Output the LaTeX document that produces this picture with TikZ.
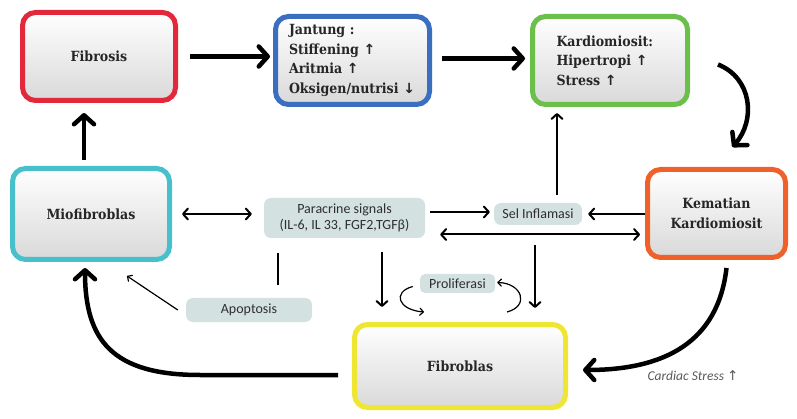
\documentclass[tikz,border=0pt]{standalone}
\usepackage{fontspec}
\setmainfont{Carlito}
\newfontfamily\slabfont{DejaVu Serif Condensed}
\newfontfamily\symfont{DejaVu Sans}
\usetikzlibrary{arrows.meta}
\definecolor{fibred}{HTML}{E2283A}
\definecolor{jantblue}{HTML}{3A6EC0}
\definecolor{kardgreen}{HTML}{6AC04A}
\definecolor{miocyan}{HTML}{48C0CC}
\definecolor{kemorange}{HTML}{F0602A}
\definecolor{fibyellow}{HTML}{EEE630}
\definecolor{signalfill}{HTML}{D4E1E1}
\begin{document}
\begin{tikzpicture}[x=1pt,y=-1pt,
  bigbox/.style={draw=#1, line width=5pt, rounded corners=13pt, top color=white, bottom color=black!15,
    minimum height=88pt, text=black!85, font=\slabfont\bfseries\fontsize{14}{19.5}\selectfont},
  signal/.style={fill=signalfill, rounded corners=7pt, text=black!82, font=\fontsize{14}{16}\selectfont},
  bigarrow/.style={line width=4.5pt, -{Straight Barb[round,length=9pt,width=20pt]}},
  medarrow/.style={line width=2pt, -{Straight Barb[round,length=5pt,width=11pt]}},
  medboth/.style={line width=2pt, {Straight Barb[round,length=5pt,width=11pt]}-{Straight Barb[round,length=5pt,width=11pt]}},
  thinarrow/.style={line width=1.2pt, -{Straight Barb[round,length=3.5pt,width=7pt]}}]
\useasboundingbox (0,0) rectangle (797,419);

\node[bigbox=fibred, minimum width=153pt] (fibrosis) at (99,56.5) {Fibrosis};
\node[bigbox=jantblue, minimum width=154pt, text width=127pt, inner xsep=13.5pt, align=left] (jantung) at (352.5,60.5)
  {Jantung :\\Stiffening {\symfont↑}\\Aritmia {\symfont↑}\\Oksigen/nutrisi {\symfont↓}};
\node[bigbox=kardgreen, minimum width=155pt, text width=107pt, inner xsep=24pt, align=left] (kardio) at (610,60.5)
  {Kardiomiosit:\\Hipertropi {\symfont↑}\\Stress {\symfont↑}};
\node[bigbox=miocyan, minimum width=157pt, minimum height=91pt] (miofib) at (91,214) {Miofibroblas};
\node[bigbox=kemorange, minimum width=138pt, align=center] (kematian) at (716.5,213.5) {Kematian\\Kardiomiosit};
\node[bigbox=fibyellow, minimum width=211pt, minimum height=83pt] (fibroblas) at (460,366) {Fibroblas};

\node[signal, minimum width=161pt, minimum height=40pt, align=center] (paracrine) at (344.5,218)
  {Paracrine signals\\(IL-6, IL 33, FGF2,TGFβ)};
\node[signal, minimum width=88pt, minimum height=22pt] (sel) at (538,214) {Sel Inflamasi};
\node[signal, minimum width=126pt, minimum height=24pt] (apoptosis) at (249,310) {Apoptosis};
\node[signal, minimum width=75pt, minimum height=19pt, inner ysep=1pt, rounded corners=5pt] (prolif) at (457.5,283.5) {Proliferasi};
\node[text=black!65, font=\itshape\fontsize{13.5}{15}\selectfont] (cslabel) at (693,376) {Cardiac Stress {\upshape\symfont↑}};

\coordinate (kk1) at ([xshift=28pt,yshift=-4pt]kardio.east);
\coordinate (kk2) at ([xshift=16pt,yshift=20pt]kematian.north);
\coordinate (fm1) at (200,375);
\coordinate (am1) at (127,276);
\coordinate (pl1) at (424,312);
\coordinate (pl2) at (507,312);

\draw[bigarrow, shorten <=12pt, shorten >=3pt] (fibrosis.east) -- (fibrosis.east -| jantung.west);
\draw[bigarrow, shorten <=10pt, shorten >=5pt] ([yshift=2pt]jantung.east) -- ([yshift=2pt]kardio.west);
\draw[bigarrow] (kk1) .. controls (752,78) and (756,120) .. (kk2);
\draw[bigarrow, shorten <=6pt, shorten >=10pt] ([xshift=-7pt]miofib.north) -- ([xshift=-7pt]miofib.north |- fibrosis.south);
\draw[bigarrow, shorten >=6pt] ([xshift=-14pt,yshift=-9pt]fibroblas.west) -- (fm1)
  .. controls (112,375) and (85,340) .. ([xshift=-6pt]miofib.south);
\draw[bigarrow, shorten >=15pt] ([xshift=10pt,yshift=-8pt]kematian.south) .. controls (718,342) and (665,370) .. ([yshift=-4pt]fibroblas.east);

\draw[medboth, shorten <=10pt, shorten >=12pt] (miofib.east) -- (miofib.east -| paracrine.west);
\draw[medarrow, shorten <=5pt, shorten >=4pt] ([yshift=6pt]paracrine.east) -- ([yshift=6pt]paracrine.east -| sel.west);
\draw[medarrow, shorten >=6pt] (kematian.west |- sel.east) -- (sel.east);
\draw[medboth, shorten <=5pt, shorten >=15pt] ([yshift=-21pt]kematian.west) -- ([yshift=-21pt]kematian.west -| paracrine.east);
\draw[medarrow, shorten <=8pt, shorten >=6pt] ([xshift=19pt]sel.north) -- ([xshift=19pt]sel.north |- kardio.south);
\draw[medarrow, shorten <=14pt, shorten >=15pt] ([xshift=37.5pt]paracrine.south) -- ([xshift=37.5pt]paracrine.south |- fibroblas.north);
\draw[medarrow, shorten <=20pt, shorten >=14pt] ([xshift=-3pt]sel.south) -- ([xshift=-3pt]sel.south |- fibroblas.north);
\draw[line width=2pt, shorten <=15pt, shorten >=13pt] ([xshift=14pt]paracrine.south west) -- ([xshift=14pt]paracrine.south west |- apoptosis.north);

\draw[thinarrow] ([xshift=-8pt]apoptosis.west) -- (am1);
\draw[thinarrow] ([xshift=-7pt,yshift=-3pt]prolif.west) .. controls (392,292) and (398,310) .. (pl1);
\draw[thinarrow] (pl2) .. controls (530,306) and (522,283) .. ([xshift=2pt,yshift=1pt]prolif.east);
\end{tikzpicture}
\end{document}
